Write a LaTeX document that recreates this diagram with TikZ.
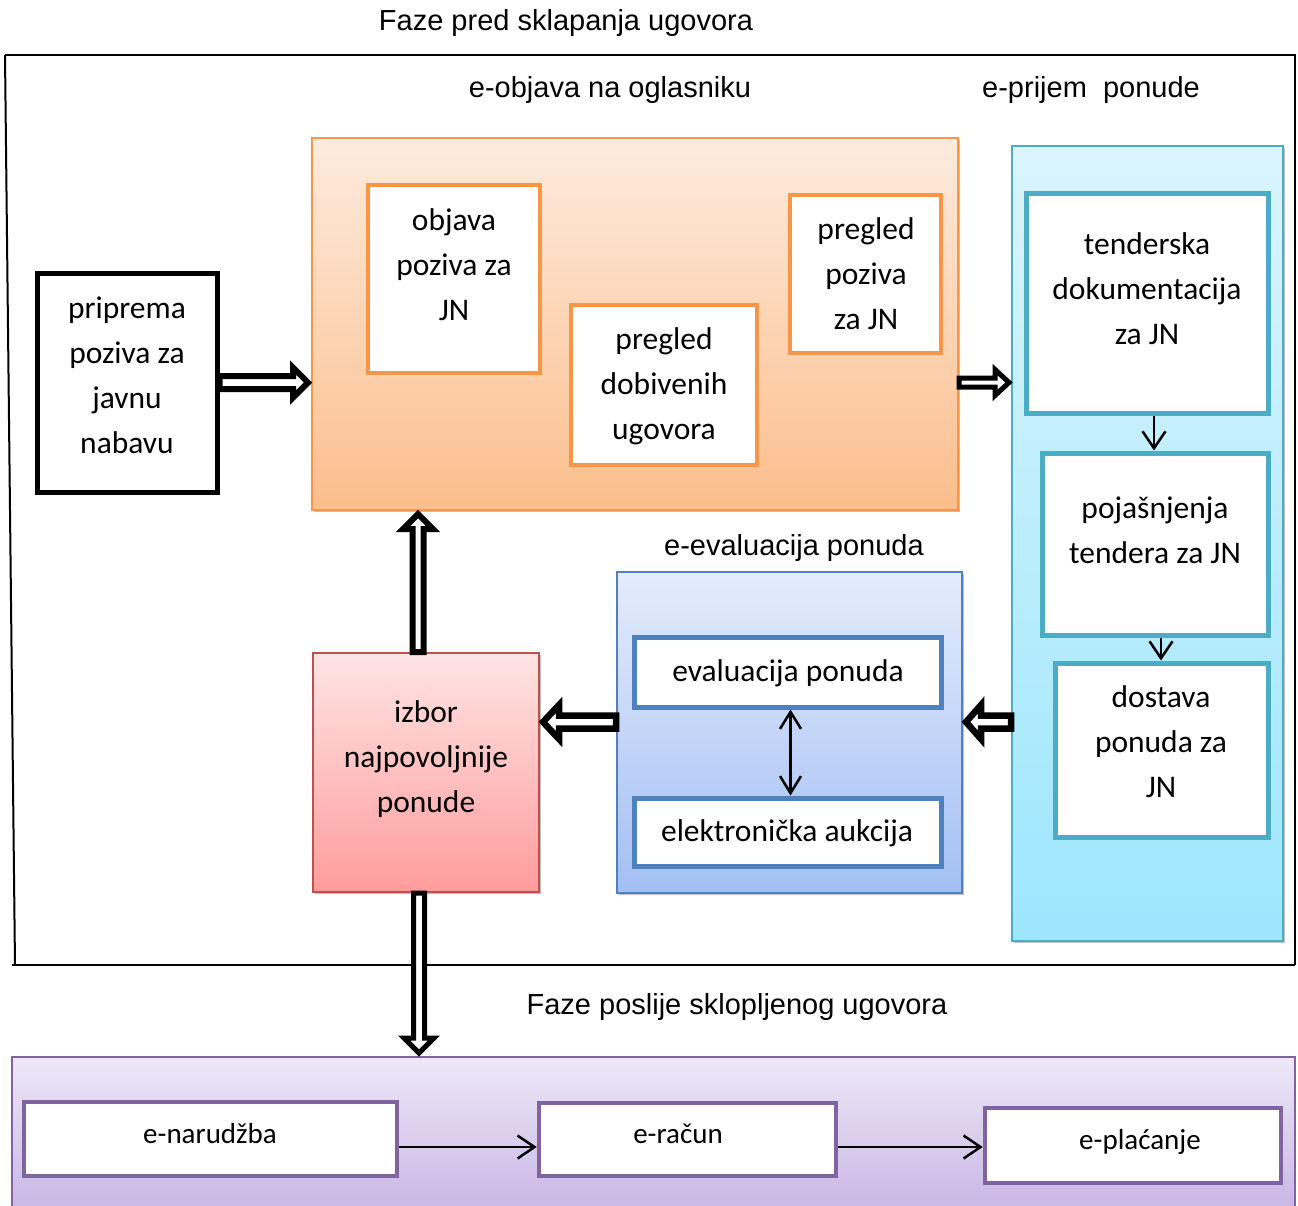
\documentclass[tikz,border=0pt]{standalone}
\usepackage{fontspec}
\setmainfont{Carlito}
\newfontfamily\arialf{Liberation Sans}
\usetikzlibrary{arrows.meta,calc,shadows}
\definecolor{orB}{HTML}{F79646}
\definecolor{orT}{HTML}{FEEBDD}
\definecolor{orBot}{HTML}{FBBE8C}
\definecolor{cyB}{HTML}{4BACC6}
\definecolor{cyT}{HTML}{DAF4FD}
\definecolor{cyBot}{HTML}{9DE6FD}
\definecolor{blB}{HTML}{4F81BD}
\definecolor{blT}{HTML}{E4ECFD}
\definecolor{blBot}{HTML}{A3BFF3}
\definecolor{rdB}{HTML}{C0504D}
\definecolor{rdT}{HTML}{FFE4E4}
\definecolor{rdBot}{HTML}{FF9C9C}
\definecolor{puB}{HTML}{8064A2}
\definecolor{puT}{HTML}{EEE8F7}
\definecolor{puBot}{HTML}{C8B6E5}
\newcommand\mkbox[6]{\node[#1, minimum width={(#5)-(#3)}, minimum height={(#6)-(#4)}] (#2) at ({((#3)+(#5))/2},{((#4)+(#6))/2}) {};}
% horizontal block arrow: start, end, shaft half width, head half width, head length (signed), line width
\newcommand\harr[6]{\draw[line width=#6, fill=white, line join=miter, miter limit=10] let \p1=#1, \p2=#2 in
 ({\x1},{\y1+#3pt}) -- ({\x2-(#5pt)},{\y1+#3pt}) -- ({\x2-(#5pt)},{\y1+#4pt}) -- ({\x2},{\y1}) -- ({\x2-(#5pt)},{\y1-#4pt}) -- ({\x2-(#5pt)},{\y1-#3pt}) -- ({\x1},{\y1-#3pt}) -- cycle;}
% vertical block arrow (canvas y points up)
\newcommand\varr[6]{\draw[line width=#6, fill=white, line join=miter, miter limit=10] let \p1=#1, \p2=#2 in
 ({\x1+#3pt},{\y1}) -- ({\x1+#3pt},{\y2-(#5pt)}) -- ({\x1+#4pt},{\y2-(#5pt)}) -- ({\x1},{\y2}) -- ({\x1-#4pt},{\y2-(#5pt)}) -- ({\x1-#3pt},{\y2-(#5pt)}) -- ({\x1-#3pt},{\y1}) -- cycle;}
\tikzset{
  grp/.style={draw, line width=2, rectangle, inner sep=0},
  shd/.style={drop shadow={shadow xshift=2pt, shadow yshift=-2pt, opacity=0.25, fill=black}},
  ibox/.style={draw, fill=white, rectangle, inner sep=0},
  txt/.style={align=center, inner sep=0, font=\fontsize{31.5}{45}\selectfont},
  stxt/.style={align=center, inner sep=0, font=\fontsize{29}{34}\selectfont},
  hd/.style={inner sep=0, font=\arialf\fontsize{29}{34}\selectfont},
  thinarr/.style={line width=2.5, -{Straight Barb[length=17pt,width=23pt]}},
  dblarr/.style={line width=2.5, {Straight Barb[length=17pt,width=21pt]}-{Straight Barb[length=17pt,width=21pt]}}
}
\begin{document}
\begin{tikzpicture}[x=1pt,y=-1pt]
\useasboundingbox (0,0) rectangle (1298,1205);
\clip (0,0) rectangle (1298,1205);
\fill[white] (0,0) rectangle (1298,1205);
% outer frame
\draw[line width=2] (5,55) -- (1295,55) -- (1295,965);
\draw[line width=2] (5,55) -- (15,965);
\draw[line width=2] (12,965) -- (1295,965);
% headings
\node[hd] (h1) at (566,22.5) {Faze pred sklapanja ugovora};
\node[hd] (h2) at (610,89.5) {e-objava na oglasniku};
\node[hd] (h3) at (1091,89.5) {e-prijem\ \ ponude};
\node[hd] (h4) at (794,547.5) {e-evaluacija ponuda};
\node[hd] (h5) at (737,1006.5) {Faze poslije sklopljenog ugovora};
% orange group
\mkbox{grp, shd, draw=orB, top color=orT, bottom color=orBot}{orangeg}{312}{138}{958}{510}
\mkbox{ibox, draw=orB, line width=4.5}{objava}{368}{185}{540}{373}
\mkbox{ibox, draw=orB, line width=4.5}{dobiv}{571}{305}{757}{465}
\mkbox{ibox, draw=orB, line width=4.5}{pregp}{790}{195}{941}{353}
\node[txt] (objava-t) at (454,265) {objava\\poziva za\\JN};
\node[txt] (dobiv-t) at (664,386) {pregled\\dobivenih\\ugovora};
\node[txt] (pregp-t) at (866,274) {pregled\\poziva\\za JN};
% preparation
\mkbox{ibox, draw=black, line width=5}{prep}{37}{273}{217}{492}
\node[txt] (prep-t) at (127,375) {priprema\\poziva za\\javnu\\nabavu};
% cyan group
\mkbox{grp, shd, draw=cyB, top color=cyT, bottom color=cyBot}{cyang}{1012}{146}{1283}{941}
\mkbox{ibox, draw=cyB, line width=5}{tend}{1026}{193}{1268}{413}
\mkbox{ibox, draw=cyB, line width=5}{poj}{1042}{453}{1268}{635}
\mkbox{ibox, draw=cyB, line width=5}{dost}{1055}{663}{1268}{837}
\node[txt] (tend-t) at (1147,289) {tenderska\\dokumentacija\\za JN};
\node[txt] (poj-t) at (1155,530) {pojašnjenja\\tendera za JN};
\node[txt] (dost-t) at (1161,742) {dostava\\ponuda za\\JN};
% blue group
\mkbox{grp, shd, draw=blB, top color=blT, bottom color=blBot}{blueg}{617}{572}{962}{893}
\mkbox{ibox, draw=blB, line width=5}{ev1}{634}{637}{941}{707}
\mkbox{ibox, draw=blB, line width=5}{ev2}{634}{798}{941}{866}
\node[txt] (ev1-t) at (788,673) {evaluacija ponuda};
\node[txt] (ev2-t) at (787,833) {elektronička aukcija};
% izbor
\mkbox{grp, shd, draw=rdB, top color=rdT, bottom color=rdBot}{izbor}{313}{653}{539}{892}
\node[txt] (izbor-t) at (426,759) {izbor\\najpovoljnije\\ponude};
% purple group
\mkbox{grp, draw=puB, top color=puT, bottom color=puBot}{purpg}{12}{1057}{1295}{1212}
\mkbox{ibox, draw=puB, line width=4.5}{nar}{24}{1102}{397}{1176}
\mkbox{ibox, draw=puB, line width=4.5}{rac}{539}{1103}{836}{1176}
\mkbox{ibox, draw=puB, line width=4.5}{plac}{985}{1108}{1281}{1183}
\node[stxt] (nar-t) at (210,1134) {e-narudžba};
\node[stxt] (rac-t) at (678,1134) {e-račun};
\node[stxt] (plac-t) at (1140,1142) {e-plaćanje};
% block arrows
\coordinate (a1e) at ($(orangeg.west |- prep.east)+(-3,0)$);
\harr{(prep.east)}{(a1e)}{6.5}{15}{15}{6}
\coordinate (a2s) at (orangeg.east |- prep.east);
\coordinate (a2e) at ($(cyang.west |- prep.east)+(-2,0)$);
\harr{(a2s)}{(a2e)}{4.5}{13}{14}{5}
\coordinate (a3s) at ($(izbor.north)+(-8,0)$);
\coordinate (a3e) at ($(a3s |- orangeg.south)+(0,3)$);
\varr{(a3s)}{(a3e)}{5.5}{15}{15}{6}
\coordinate (a4s) at ($(blueg.west)+(0,-10.5)$);
\coordinate (a4e) at ($(izbor.east |- a4s)+(3,0)$);
\harr{(a4s)}{(a4e)}{6.5}{17}{-16}{6.5}
\coordinate (a5s) at (cyang.west |- a4s);
\coordinate (a5e) at ($(blueg.east |- a4s)+(3,0)$);
\harr{(a5s)}{(a5e)}{6.5}{17}{-15}{6.5}
\coordinate (a6s) at ($(izbor.south)+(-7,0)$);
\coordinate (a6e) at ($(a6s |- purpg.north)+(0,-3)$);
\varr{(a6s)}{(a6e)}{5.5}{15}{-15}{5}
% thin arrows
\coordinate (t1) at ($(tend.south)+(7,0)$);
\draw[thinarr] (t1) -- (t1 |- poj.north);
\coordinate (t2) at ($(poj.south)+(6,0)$);
\draw[thinarr] (t2) -- (t2 |- dost.north);
\coordinate (t3) at ($(ev1.south)+(3,0)$);
\draw[dblarr] (t3) -- (t3 |- ev2.north);
\coordinate (b1) at ($(nar.east)+(0,8)$);
\draw[thinarr] (b1) -- (rac.west |- b1);
\draw[thinarr] (rac.east |- b1) -- (plac.west |- b1);
\end{tikzpicture}
\end{document}
